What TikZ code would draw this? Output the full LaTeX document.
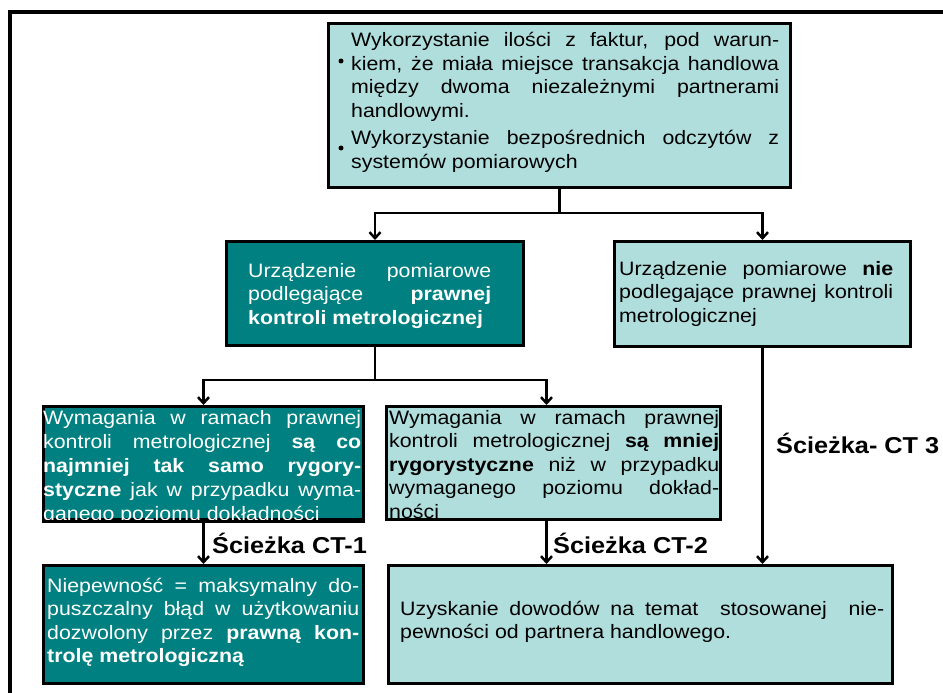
\documentclass[tikz,border=0pt]{standalone}
\usepackage{fontspec}
\setmainfont[FakeStretch=1.1]{Liberation Sans}
\usetikzlibrary{calc,arrows.meta}
\definecolor{darkteal}{RGB}{0,128,128}
\definecolor{lightteal}{RGB}{175,222,220}
\tolerance=9999
\hyphenpenalty=10000
\setlength{\parindent}{0pt}
\tikzset{
  box/.style={draw=black,line width=3pt,anchor=north west,inner sep=0pt},
  lightbox/.style={box,fill=lightteal},
  darkbox/.style={box,fill=darkteal},
  boxtext/.style={anchor=base west,inner sep=0pt,align=justify,
    font=\fontsize{19.4}{23.5}\selectfont},
  pathlabel/.style={anchor=base west,inner sep=0pt,
    font=\fontsize{23}{26}\selectfont\bfseries},
  link/.style={line width=2.5pt},
  flow/.style={link,-{Straight Barb[length=6pt,width=11pt]}}
}
\begin{document}
\begin{tikzpicture}[x=1pt,y=-1pt]
  \useasboundingbox (0,0) rectangle (943,693);
  \clip (0,0) rectangle (943,693);
  \draw[line width=3.5pt] (10,12) rectangle (990,740);

  \node[lightbox,minimum width=462pt,minimum height=164pt] (src) at (327,22) {};
  \node[darkbox,minimum width=297pt,minimum height=104pt] (legal) at (225,240) {};
  \node[lightbox,minimum width=296pt,minimum height=105pt] (nonlegal) at (613,240) {};
  \node[darkbox,minimum width=320pt,minimum height=113pt] (strict) at (42,405) {};
  \node[lightbox,minimum width=334pt,minimum height=113pt] (lax) at (385,405) {};
  \node[darkbox,minimum width=320pt,minimum height=118pt] (mpe) at (42,564) {};
  \node[lightbox,minimum width=504pt,minimum height=118pt] (evidence) at (387,564) {};

  \node[boxtext,text width=428pt] (srcText) at (351,47)
    {Wykorzystanie ilości z faktur, pod warun-\linebreak
     kiem, że miała miejsce transakcja handlowa\linebreak
     między dwoma niezależnymi partnerami\linebreak
     handlowymi.\par\vspace{4pt}
     Wykorzystanie bezpośrednich odczytów z\linebreak
     systemów pomiarowych};
  \foreach \y in {61,148}
    \fill (341,\y) circle (2.5pt);

  \node[boxtext,text width=243pt,text=white] (legalText) at (248,277)
    {Urządzenie pomiarowe\linebreak
     podlegające \textbf{prawnej}\linebreak
     \textbf{kontroli metrologicznej}};
  \node[boxtext,text width=274pt] (nonlegalText) at (619,275)
    {Urządzenie pomiarowe \textbf{nie}\linebreak
     podlegające prawnej kontroli\linebreak
     metrologicznej};

  \node[boxtext,text width=318pt,text=white,
        font=\fontsize{19.4}{24}\selectfont] (strictText) at (43,424)
    {Wymagania w ramach prawnej\linebreak
     kontroli metrologicznej \textbf{są co}\linebreak
     \textbf{najmniej tak samo rygory-}\linebreak
     \textbf{styczne} jak w przypadku wyma-\linebreak
     ganego poziomu dokładności};
  \draw[line width=3pt] (strict.south west) -- (strict.south east);
  \node[boxtext,text width=330pt] (laxText) at (389,424)
    {Wymagania w ramach prawnej\linebreak
     kontroli metrologicznej \textbf{są mniej}\linebreak
     \textbf{rygorystyczne} niż w przypadku\linebreak
     wymaganego poziomu dokład-\linebreak
     ności};

  \node[boxtext,text width=312pt,text=white] (mpeText) at (47,592)
    {Niepewność = maksymalny do-\linebreak
     puszczalny błąd w użytkowaniu\linebreak
     dozwolony przez \textbf{prawną kon-}\linebreak
     \textbf{trolę metrologiczną}};
  \node[boxtext,text width=484pt] (evidenceText) at (400,615)
    {Uzyskanie dowodów na temat\ \ stosowanej\ \ nie-\linebreak
     pewności od partnera handlowego.};

  % connectors
  \coordinate (fork1) at ($(src.south)+(0,24)$);
  \draw[link] (src.south) -- (fork1);
  \draw[flow] (fork1) -| (legal.north);
  \draw[flow] (fork1) -| (nonlegal.north);

  \coordinate (fork2) at ($(legal.south)+(0,33)$);
  \coordinate (laxIn) at ($(lax.north)+(-7,0)$);
  \coordinate (laxOut) at ($(lax.south)+(-7,0)$);
  \draw[link] (legal.south) -- (fork2);
  \draw[flow] (fork2) -| (strict.north);
  \draw[flow] (fork2) -| (laxIn);

  \draw[flow] (strict.south) -- (mpe.north);
  \draw[flow] (laxOut) -- (laxOut |- evidence.north);
  \draw[flow] (nonlegal.south) -- (nonlegal.south |- evidence.north);

  \node[pathlabel] (ct1) at (212,553) {Ścieżka CT-1};
  \node[pathlabel] (ct2) at (553,553) {Ścieżka CT-2};
  \node[pathlabel] (ct3) at (776,453) {Ścieżka- CT 3};
\end{tikzpicture}
\end{document}
